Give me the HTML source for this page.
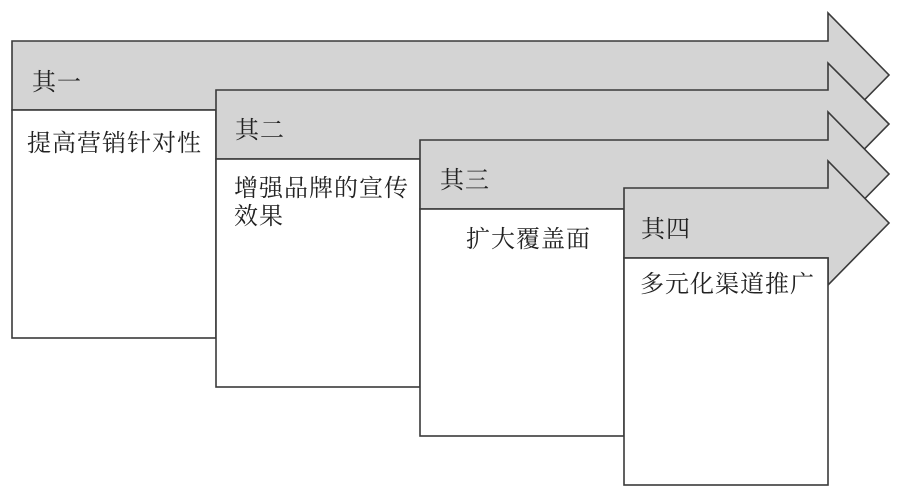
<!DOCTYPE html>
<html><head><meta charset="utf-8"><style>
html,body{margin:0;padding:0;background:#fff;}
svg{display:block;}
text{font-family:"Liberation Serif","Noto Serif CJK SC","Noto Sans CJK SC",serif;font-size:24px;letter-spacing:1px;fill:#222;}
</style></head><body>
<svg width="901" height="495" viewBox="0 0 901 495" xmlns="http://www.w3.org/2000/svg">
<g stroke="#3a3a3a" stroke-width="1.6" stroke-linejoin="miter">
<polygon points="12,41 828,41 828,13 889,75 828,137 828,110 12,110" fill="#d4d4d4"/>
<rect x="12" y="110" width="204" height="228" fill="#fff"/>
<polygon points="216,90 828,90 828,63 889,124 828,186 828,159 216,159" fill="#d4d4d4"/>
<rect x="216" y="159" width="204" height="228" fill="#fff"/>
<polygon points="420,140 828,140 828,112 889,174 828,236 828,209 420,209" fill="#d4d4d4"/>
<rect x="420" y="209" width="204" height="227" fill="#fff"/>
<polygon points="624,188 828,188 828,161 889,223 828,285 828,258 624,258" fill="#d4d4d4"/>
<rect x="624" y="258" width="204" height="227" fill="#fff"/>
</g>
<text x="32" y="90">其一</text>
<text x="27" y="151">提高营销针对性</text>
<text x="235" y="138">其二</text>
<text x="234" y="196">增强品牌的宣传</text>
<text x="234" y="224">效果</text>
<text x="440" y="188">其三</text>
<text x="466" y="247">扩大覆盖面</text>
<text x="641" y="237">其四</text>
<text x="640" y="292">多元化渠道推广</text>
</svg>
</body></html>
